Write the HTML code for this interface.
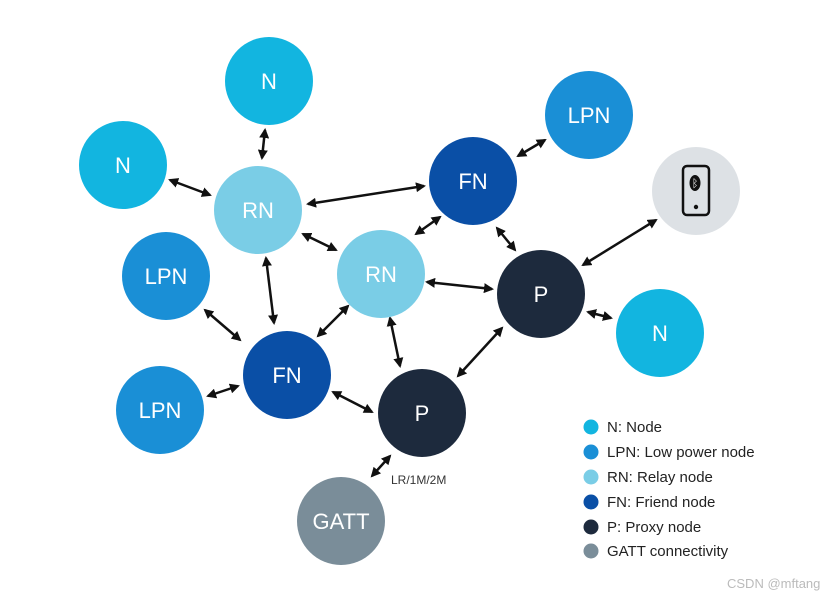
<!DOCTYPE html>
<html><head><meta charset="utf-8"><style>
body{margin:0;background:#fff;}
svg{display:block;font-family:"Liberation Sans",sans-serif;}
</style></head><body>
<svg width="840" height="600" viewBox="0 0 840 600" xmlns="http://www.w3.org/2000/svg">
<defs>
<marker id="a" viewBox="0 0 10 10" refX="8" refY="5" markerWidth="4" markerHeight="4" orient="auto-start-reverse"><path d="M0,0 L10,5 L0,10 z" fill="#111"/></marker>
</defs>
<g stroke="#111" stroke-width="2.5" marker-start="url(#a)" marker-end="url(#a)">
<line x1="265" y1="130" x2="262" y2="158"/>
<line x1="170" y1="180" x2="210" y2="195"/>
<line x1="308" y1="204" x2="424" y2="186"/>
<line x1="303" y1="234" x2="336" y2="250"/>
<line x1="266" y1="258" x2="274" y2="323"/>
<line x1="518" y1="156" x2="545" y2="140"/>
<line x1="416" y1="234" x2="440" y2="217"/>
<line x1="497" y1="228" x2="515" y2="250"/>
<line x1="656" y1="220" x2="583" y2="265"/>
<line x1="427" y1="282" x2="492" y2="289"/>
<line x1="588" y1="312" x2="611" y2="318"/>
<line x1="205" y1="310" x2="240" y2="340"/>
<line x1="348" y1="306" x2="318" y2="336"/>
<line x1="390" y1="318" x2="400" y2="366"/>
<line x1="502" y1="328" x2="458" y2="376"/>
<line x1="333" y1="392" x2="372" y2="412"/>
<line x1="208" y1="396" x2="238" y2="386"/>
<line x1="390" y1="456" x2="372" y2="476"/>
</g>
<g font-size="22" fill="#fff" text-anchor="middle">
<circle cx="269" cy="81" r="44" fill="#12b5e0"/><text x="269" y="89">N</text>
<circle cx="123" cy="165" r="44" fill="#12b5e0"/><text x="123" y="173">N</text>
<circle cx="258" cy="210" r="44" fill="#7acde6"/><text x="258" y="218">RN</text>
<circle cx="473" cy="181" r="44" fill="#0a4fa6"/><text x="473" y="189">FN</text>
<circle cx="589" cy="115" r="44" fill="#1a8fd6"/><text x="589" y="123">LPN</text>
<circle cx="696" cy="191" r="44" fill="#dde1e5"/>
<circle cx="381" cy="274" r="44" fill="#7acde6"/><text x="381" y="282">RN</text>
<circle cx="541" cy="294" r="44" fill="#1d2a3d"/><text x="541" y="302">P</text>
<circle cx="660" cy="333" r="44" fill="#12b5e0"/><text x="660" y="341">N</text>
<circle cx="166" cy="276" r="44" fill="#1a8fd6"/><text x="166" y="284">LPN</text>
<circle cx="287" cy="375" r="44" fill="#0a4fa6"/><text x="287" y="383">FN</text>
<circle cx="160" cy="410" r="44" fill="#1a8fd6"/><text x="160" y="418">LPN</text>
<circle cx="422" cy="413" r="44" fill="#1d2a3d"/><text x="422" y="421">P</text>
<circle cx="341" cy="521" r="44" fill="#7a8d99"/><text x="341" y="529">GATT</text>
</g>
<rect x="683" y="166" width="26" height="49" rx="4" fill="none" stroke="#111" stroke-width="2.5"/>
<ellipse cx="695" cy="183" rx="5.5" ry="8" fill="#111"/>
<text x="695" y="187" font-size="11" fill="#fff" text-anchor="middle">ᛒ</text>
<circle cx="696" cy="207" r="2.2" fill="#111"/>
<text x="391" y="484" font-size="12" fill="#333">LR/1M/2M</text>
<g font-size="15" fill="#222">
<circle cx="591" cy="427" r="7.5" fill="#12b5e0"/><text x="607" y="432">N: Node</text>
<circle cx="591" cy="452" r="7.5" fill="#1a8fd6"/><text x="607" y="457">LPN: Low power node</text>
<circle cx="591" cy="477" r="7.5" fill="#7acde6"/><text x="607" y="482">RN: Relay node</text>
<circle cx="591" cy="502" r="7.5" fill="#0a4fa6"/><text x="607" y="507">FN: Friend node</text>
<circle cx="591" cy="527" r="7.5" fill="#1d2a3d"/><text x="607" y="532">P: Proxy node</text>
<circle cx="591" cy="551" r="7.5" fill="#7a8d99"/><text x="607" y="556">GATT connectivity</text>
</g>
<text x="727" y="588" font-size="13" fill="#bbb">CSDN @mftang</text>
</svg>
</body></html>
